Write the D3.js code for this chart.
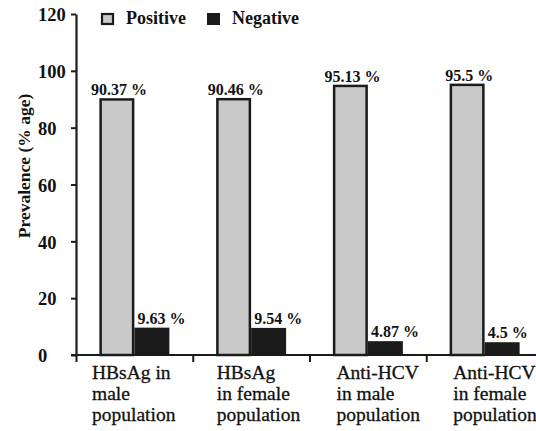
<!DOCTYPE html>
<html>
<head>
<meta charset="utf-8">
<script src="https://cdn.jsdelivr.net/npm/d3@7"></script>
<style>
  html, body { margin: 0; padding: 0; background: #fff; }
  svg { display: block; }
  svg text { font-family: "Liberation Serif", "Tinos", "DejaVu Serif", serif; fill: #111; }
</style>
</head>
<body>
<svg id="chart" width="536" height="431"></svg>
<script>
// ---- data ----
const categories = ["HBsAg in male population", "HBsAg in female population", "Anti-HCV in male population", "Anti-HCV in female population"];
const categoryLines = [["HBsAg in", "male", "population"], ["HBsAg", "in female", "population"], ["Anti-HCV", "in male", "population"], ["Anti-HCV", "in female", "population"]];
const series = ["Positive", "Negative"];
const positive = [90.37, 90.46, 95.13, 95.5];
const negative = [9.63, 9.54, 4.87, 4.5];
const positiveLabels = ["90.37 %", "90.46 %", "95.13 %", "95.5 %"];
const negativeLabels = ["9.63 %", "9.54 %", "4.87 %", "4.5 %"];
const yTicks = [0, 20, 40, 60, 80, 100, 120];
const yTitle = "Prevalence (% age)";

// ---- layout ----
const svg = d3.select("#chart");
const mLeft = 76, mRight = 543, mTop = 14, mBottom = 355;
const colors = { Positive: "#c9c9c9", Negative: "#1b1b1b" };
const ink = "#1b1b1b";
const serifFont = "'Liberation Serif', 'DejaVu Serif', serif";

const x = d3.scaleBand().domain(categories).range([mLeft, mRight]).paddingInner(0).paddingOuter(0);
const xs = d3.scaleBand().domain(series).range([0, x.bandwidth()]).paddingInner(0).paddingOuter(0.668);
const y = d3.scaleLinear().domain([0, 120]).range([mBottom, mTop]);

const rows = categories.map((c, i) => ({ c, i, Positive: positive[i], Negative: negative[i] }));

// bars
const g = svg.append("g");
rows.forEach(r => {
  g.append("rect")
    .attr("x", x(r.c) + xs("Negative"))
    .attr("y", y(r.Negative))
    .attr("width", xs.bandwidth())
    .attr("height", y(0) - y(r.Negative))
    .attr("fill", colors.Negative);
  g.append("rect")
    .attr("x", x(r.c) + xs("Positive") + 1.25)
    .attr("y", y(r.Positive) + 1.25)
    .attr("width", xs.bandwidth() - 2.5)
    .attr("height", y(0) - y(r.Positive) - 1.25)
    .attr("fill", colors.Positive)
    .attr("stroke", ink)
    .attr("stroke-width", 2.5);
});

// value labels
rows.forEach(r => {
  svg.append("text")
    .attr("font-family", serifFont)
    .attr("x", x(r.c) + xs("Positive") + xs.bandwidth() / 2 + 2)
    .attr("y", y(r.Positive) - 3)
    .attr("text-anchor", "middle")
    .attr("font-weight", "bold")
    .attr("font-size", 16)
    .text(positiveLabels[r.i]);
  svg.append("text")
    .attr("font-family", serifFont)
    .attr("x", x(r.c) + xs("Negative") + 3)
    .attr("y", y(r.Negative) - 4)
    .attr("text-anchor", "start")
    .attr("font-weight", "bold")
    .attr("font-size", 16)
    .text(negativeLabels[r.i]);
});

// y axis
const yAxis = svg.append("g")
  .attr("transform", `translate(${mLeft},0)`)
  .call(d3.axisLeft(y).tickValues(yTicks).tickSize(5).tickSizeOuter(0).tickFormat(d3.format("d")));
yAxis.attr("font-family", serifFont);
yAxis.select(".domain").attr("stroke", ink).attr("stroke-width", 2.2);
yAxis.selectAll(".tick line").attr("stroke", ink).attr("stroke-width", 2);
yAxis.selectAll(".tick text")
  .attr("x", -38)
  .attr("dy", "0.36em")
  .attr("text-anchor", "start")
  .attr("font-size", 18.5)
  .attr("font-weight", "bold")
  .attr("fill", "#111");

// x axis
const boundaries = categories.map(c => x(c)).concat([x.range()[1]]);
const xAxis = svg.append("g")
  .attr("transform", `translate(0,${mBottom})`)
  .call(d3.axisBottom(d3.scaleLinear().domain([mLeft, mRight]).range([mLeft, mRight]))
    .tickValues(boundaries).tickSize(7).tickSizeOuter(0).tickFormat(""));
xAxis.select(".domain").remove();
xAxis.append("line").attr("x1", mLeft - 5).attr("x2", mRight).attr("y1", 0).attr("y2", 0)
  .attr("stroke", ink).attr("stroke-width", 2.2);
xAxis.selectAll(".tick line").attr("stroke", ink).attr("stroke-width", 2);

// category labels
const labelOffsets = [16, 24, 27, 27];
rows.forEach(r => {
  const t = svg.append("text")
    .attr("font-family", serifFont)
    .attr("y", 379)
    .attr("font-size", 19.5)
    .attr("stroke", "#111")
    .attr("stroke-width", 0.3);
  categoryLines[r.i].forEach((line, k) => {
    t.append("tspan").attr("x", x(r.c) + labelOffsets[r.i]).attr("dy", k === 0 ? 0 : 21).text(line);
  });
});

// y title
svg.append("text")
  .attr("font-family", serifFont)
  .attr("transform", "translate(30,166) rotate(-90)")
  .attr("text-anchor", "middle")
  .attr("font-size", 17.5)
  .attr("font-weight", "bold")
  .text(yTitle);

// legend
const legend = svg.append("g");
const legendX = [101, 207];
series.forEach((s, i) => {
  legend.append("rect")
    .attr("x", legendX[i] + (s === "Positive" ? 1 : 0))
    .attr("y", 13 + (s === "Positive" ? 1 : 0))
    .attr("width", s === "Positive" ? 11 : 13)
    .attr("height", s === "Positive" ? 10 : 12)
    .attr("fill", colors[s])
    .attr("stroke", s === "Positive" ? ink : "none")
    .attr("stroke-width", 2.2);
  legend.append("text")
    .attr("font-family", serifFont)
    .attr("x", legendX[i] + 25)
    .attr("y", 24)
    .attr("font-size", 18)
    .attr("font-weight", "bold")
    .text(s);
});
</script>
</body>
</html>
